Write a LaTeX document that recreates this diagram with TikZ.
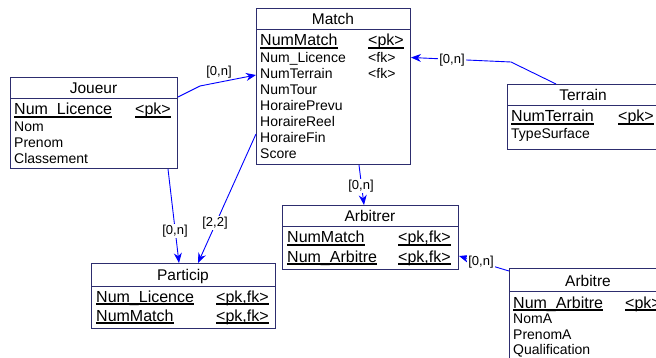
\documentclass[tikz,border=0pt]{standalone}
\usepackage{fontspec}
\setmainfont{Liberation Sans}
\usetikzlibrary{arrows.meta, positioning, calc}
\definecolor{boxblue}{RGB}{45,45,110}
\definecolor{linkblue}{RGB}{0,0,255}
\newcommand\pkline[1]{\setbox0=\hbox{#1}\rlap{\rule[-3pt]{\wd0}{2pt}}\box0}
\tikzset{
  ent/.style={rectangle, draw=boxblue, fill=white, line width=1pt, inner sep=0pt, anchor=north west},
  sep/.style={draw=boxblue, line width=1pt},
  ttl/.style={anchor=base, inner sep=0pt, font=\fontsize{15.5}{18}\selectfont},
  att/.style={anchor=base west, inner sep=0pt, font=\fontsize{14}{16}\selectfont},
  pkatt/.style={anchor=base west, inner sep=0pt, font=\fontsize{16}{18}\selectfont},
  link/.style={-{Stealth[length=10pt,width=8pt]}, linkblue, line width=0.9pt},
  card/.style={font=\fontsize{13}{15}\selectfont, fill=white, inner sep=1pt}
}

\begin{document}
\begin{tikzpicture}[x=1pt, y=-1pt]
  \clip (0,0) rectangle (656,358);
  % entities
  \node[ent, minimum width=154pt, minimum height=156pt] (match) at (256,8) {};
  \node[ent, minimum width=167pt, minimum height=91pt] (joueur) at (10,77) {};
  \node[ent, minimum width=152pt, minimum height=65pt] (terrain) at (507,84) {};
  \node[ent, minimum width=176pt, minimum height=64pt] (arbitrer) at (282,205) {};
  \node[ent, minimum width=184pt, minimum height=65pt] (particip) at (91,263) {};
  \node[ent, minimum width=160pt, minimum height=100pt] (arbitre) at (509,268) {};
  \foreach \e/\h in {match/22, joueur/22, terrain/22, arbitrer/22, particip/23, arbitre/23}
    \draw[sep] ($(\e.north west)+(0,\h)$) -- ($(\e.north east)+(0,\h)$);

  % Match
  \node[ttl] (match-t) at (333,25) {Match};
  \node[pkatt] (match-k1) at (260,46) {\pkline{NumMatch}};
  \node[pkatt] (match-p1) at (368,46) {\pkline{<pk>}};
  \foreach \txt/\yy [count=\i] in {Num\_Licence/63, NumTerrain/79, NumTour/95, HorairePrevu/111,
      HoraireReel/127, HoraireFin/143, Score/159}
    \node[att] (match-a\i) at (260,\yy) {\txt};
  \node[att] (match-f1) at (368,63) {<fk>};
  \node[att] (match-f2) at (368,79) {<fk>};

  % Joueur
  \node[ttl] (joueur-t) at (93.5,94) {Joueur};
  \node[pkatt] (joueur-k1) at (14,115) {\pkline{Num\_Licence}};
  \node[pkatt] (joueur-p1) at (135,115) {\pkline{<pk>}};
  \foreach \txt/\yy [count=\i] in {Nom/132, Prenom/148, Classement/164}
    \node[att] (joueur-a\i) at (14,\yy) {\txt};

  % Terrain
  \node[ttl] (terrain-t) at (583,101) {Terrain};
  \node[pkatt] (terrain-k1) at (511,122) {\pkline{NumTerrain}};
  \node[pkatt] (terrain-p1) at (618,122) {\pkline{<pk>}};
  \node[att] (terrain-a1) at (511,139) {TypeSurface};

  % Arbitrer
  \node[ttl] (arbitrer-t) at (370,222) {Arbitrer};
  \node[pkatt] (arbitrer-k1) at (287,243) {\pkline{NumMatch}};
  \node[pkatt] (arbitrer-p1) at (398,243) {\pkline{<pk,fk>}};
  \node[pkatt] (arbitrer-k2) at (287,262) {\pkline{Num\_Arbitre}};
  \node[pkatt] (arbitrer-p2) at (398,262) {\pkline{<pk,fk>}};

  % Particip
  \node[ttl] (particip-t) at (183,280) {Particip};
  \node[pkatt] (particip-k1) at (96,302) {\pkline{Num\_Licence}};
  \node[pkatt] (particip-p1) at (216,302) {\pkline{<pk,fk>}};
  \node[pkatt] (particip-k2) at (96,321) {\pkline{NumMatch}};
  \node[pkatt] (particip-p2) at (216,321) {\pkline{<pk,fk>}};

  % Arbitre
  \node[ttl] (arbitre-t) at (588,287) {Arbitre};
  \node[pkatt] (arbitre-k1) at (513,308) {\pkline{Num\_Arbitre}};
  \node[pkatt] (arbitre-p1) at (625,308) {\pkline{<pk>}};
  \foreach \txt/\yy [count=\i] in {NomA/323, PrenomA/339, Qualification/354}
    \node[att] (arbitre-a\i) at (513,\yy) {\txt};

  % links
  \draw[link] ($(joueur.north east)+(0,20)$) -- (200,86) -- ($(match.north west)+(0,67)$);
  \draw[link] ($(terrain.north west)+(49,0)$) -- (511,62) -- ($(match.north east)+(0,49.5)$);
  \draw[link] ($(match.south west)+(103,0)$) -- ($(arbitrer.north west)+(82,0)$);
  \draw[link] ($(joueur.south west)+(158,0)$) -- ($(particip.north west)+(88,0)$);
  \draw[link] ($(match.north west)+(0,126)$) -- ($(particip.north west)+(107,0)$);
  \draw[link] ($(arbitre.north west)+(0,3)$) -- ($(arbitrer.north east)+(0,51)$);

  % cardinalities
  \node[card] (c-joueur) at (219,72) {[0,n]};
  \node[card] (c-terrain) at (452,60) {[0,n]};
  \node[card] (c-arbitrer) at (361,186) {[0,n]};
  \node[card] (c-particip1) at (175,231) {[0,n]};
  \node[card] (c-particip2) at (215,223) {[2,2]};
  \node[card] (c-arbitre) at (481,262) {[0,n]};
\end{tikzpicture}
\end{document}
